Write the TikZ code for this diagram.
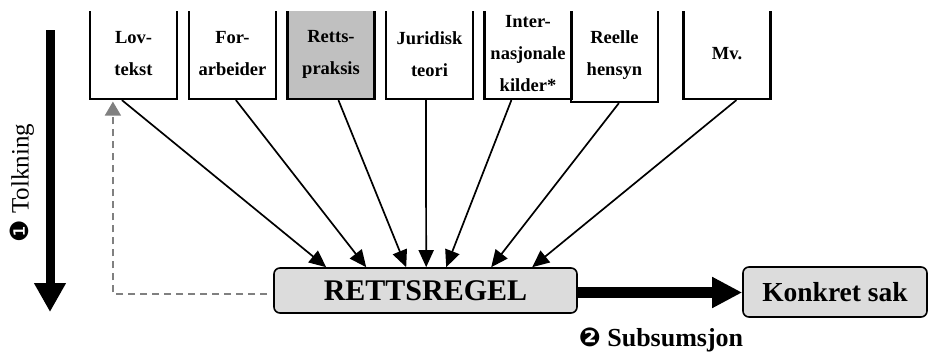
\documentclass[tikz,border=0pt]{standalone}
\usepackage{fontspec}
\setmainfont{Liberation Serif}
\newfontfamily\dejavu{DejaVu Sans}
\usetikzlibrary{arrows.meta,calc}
\definecolor{boxgray}{RGB}{220,220,220}
\definecolor{darkfill}{RGB}{192,192,192}
\definecolor{dashgray}{RGB}{128,128,128}
\begin{document}
\begin{tikzpicture}[x=1pt,y=-1pt,
  src/.style={draw,line width=2.2pt,minimum width=87pt,minimum height=90pt,inner sep=0pt,align=center,
    font=\bfseries\fontsize{18.5}{32}\selectfont},
  rulebox/.style={draw,line width=1.6pt,rounded corners=6pt,fill=boxgray,inner sep=0pt,
    font=\bfseries\fontsize{30}{34}\selectfont},
  conn/.style={line width=1.7pt,-{Triangle[length=17pt,width=15pt]}},
  back/.style={dashgray,line width=1.6pt,dash pattern=on 7pt off 5pt,-{Triangle[length=14pt,width=16pt]}},
  big/.style={line width=11pt,-{Triangle[length=30pt,width=29pt]}}
]
\useasboundingbox (0,0) rectangle (928,351);

\begin{scope}
\clip (0,11) rectangle (928,351);
\node[src] (lov) at (133.5,54) {Lov-\\tekst};
\node[src] (for) at (232.5,54) {For-\\arbeider};
\node[src,fill=darkfill] (retts) at (331,54) {Retts-\\praksis};
\node[src] (jur) at (429.5,54) {Juridisk\\teori};
\node[src] (inter) at (528,54) {Inter-\\nasjonale\\kilder*};
\node[src,minimum height=93pt] (reelle) at (614.5,55.5) {Reelle\\hensyn};
\node[src] (mv) at (727,54) {\raisebox{-6pt}{Mv.}};
\end{scope}

\node[rulebox,minimum width=303pt,minimum height=45pt] (regel) at (425.5,290.5) {RETTSREGEL};
\node[rulebox,minimum width=184pt,minimum height=50pt,font=\bfseries\fontsize{27.5}{32}\selectfont] (sak) at (835,292) {Konkret sak};

\draw[conn] ([xshift=33pt]lov.south west) -- ([xshift=53pt]regel.north west);
\draw[conn] ([xshift=48pt]for.south west) -- ([xshift=93pt]regel.north west);
\draw[conn] ([xshift=52pt]retts.south west) -- ([xshift=133pt]regel.north west);
\draw[conn] ([xshift=41pt]jur.south west) -- ([xshift=153pt]regel.north west);
\draw[conn] ([xshift=28pt]inter.south west) -- ([xshift=173pt]regel.north west);
\draw[conn] ([xshift=49pt]reelle.south west) -- ([xshift=218pt]regel.north west);
\draw[conn] ([xshift=54pt]mv.south west) -- ([xshift=259pt]regel.north west);

\draw[back] ([xshift=-6pt,yshift=-3.5pt]regel.west) -| ([xshift=24pt,yshift=-1.5pt]lov.south west);

\coordinate (re) at ([yshift=-2pt]regel.east);
\draw[big] (re) -- (sak.west |- re);

\coordinate (ttop) at (50,30);
\coordinate (tbot) at (50,312);
\draw[big,line width=9pt,-{Triangle[length=29pt,width=30pt]}] (ttop) -- (tbot);

\node[rotate=90,font=\fontsize{25}{30}\selectfont] (tolk) at (22,183) {{\dejavu ❶} Tolkning};
\node[font=\bfseries\fontsize{26}{30}\selectfont] (subs) at (661,340) {{\dejavu ❷} Subsumsjon};
\end{tikzpicture}
\end{document}
